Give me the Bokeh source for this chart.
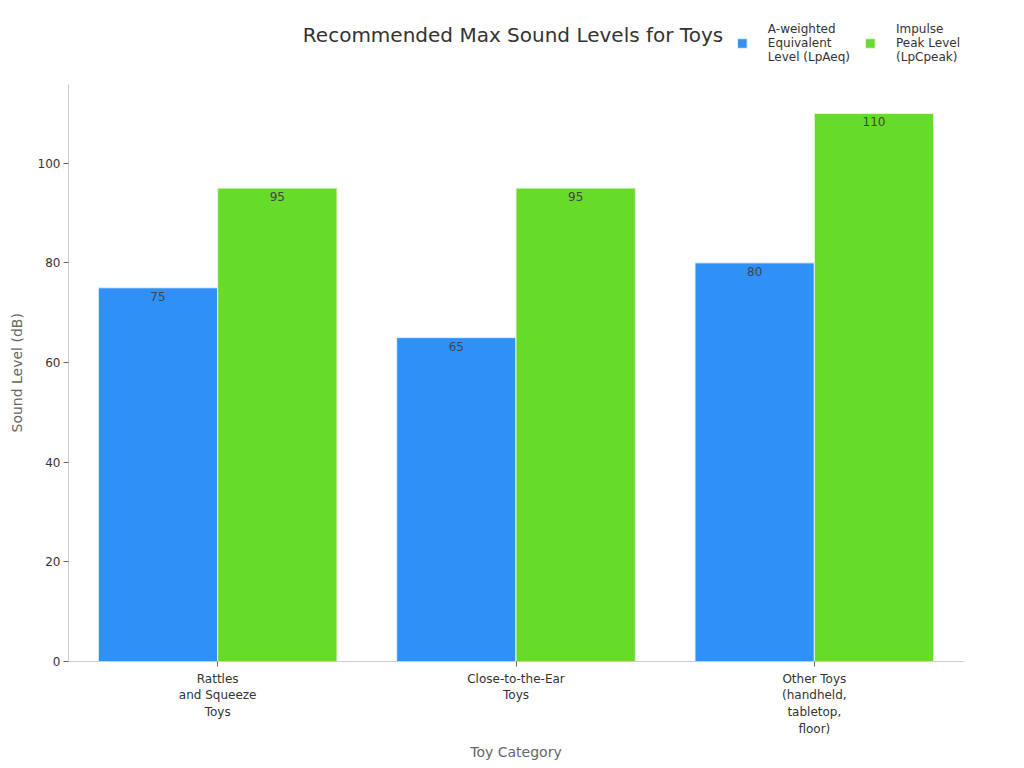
from bokeh.plotting import figure
from bokeh.models import ColumnDataSource, FactorRange, Legend, LegendItem, LabelSet, Label, Range1d, FixedTicker, Title
from bokeh.transform import dodge
from bokeh.core.properties import value
from bokeh.embed import file_html
from bokeh.resources import INLINE

title = "Recommended Max Sound Levels for Toys"
x_label = "Toy Category"
y_label = "Sound Level (dB)"
categories = ["Rattles\nand Squeeze\nToys", "Close-to-the-Ear\nToys", "Other Toys\n(handheld,\ntabletop,\nfloor)"]
lpaeq = [75, 65, 80]
lpcpeak = [95, 95, 110]
series_names = ["A-weighted\nEquivalent\nLevel (LpAeq)", "Impulse\nPeak Level\n(LpCpeak)"]
y_ticks = [0, 20, 40, 60, 80, 100]
y_axis_max = 115.8
colors = ["#2F91F8", "#66DB29"]

src = ColumnDataSource(dict(cat=categories, a=lpaeq, b=lpcpeak,
                            a_txt=[str(v) for v in lpaeq], b_txt=[str(v) for v in lpcpeak]))

FONT = "DejaVu Sans"
p = figure(width=1016, height=762, x_range=FactorRange(*categories, range_padding=0),
           y_range=Range1d(0, 128.84), output_backend="svg", toolbar_location=None,
           title=None,
           min_border_left=68, min_border_right=53, min_border_top=19, min_border_bottom=101)

r1 = p.vbar(x=dodge("cat", -0.2, range=p.x_range), top="a", width=0.4, source=src,
            fill_color=colors[0], line_color="#e6f0fa", line_width=1)
r2 = p.vbar(x=dodge("cat", 0.2, range=p.x_range), top="b", width=0.4, source=src,
            fill_color=colors[1], line_color="#e6f6dc", line_width=1)

for col, txt, off in [("a", "a_txt", -0.2), ("b", "b_txt", 0.2)]:
    p.add_layout(LabelSet(x=dodge("cat", off, range=p.x_range), y=col, text=txt, source=src,
                          text_align="center", text_baseline="top", y_offset=-4,
                          text_font=value(FONT), text_font_size="12px", text_color="#444444"))

p.add_layout(Label(x=444.5, y=627, x_units="screen", y_units="screen", text=title,
                   text_align="center", text_baseline="middle", text_font=FONT,
                   text_font_size="20px", text_color="#333333"))

p.xgrid.visible = False
p.ygrid.visible = False
p.outline_line_color = None

for ax in (p.xaxis[0], p.yaxis[0]):
    ax.axis_line_color = "#cccccc"
    ax.major_tick_line_color = "#666666"
    ax.major_tick_out = 5
    ax.major_tick_in = 0
    ax.minor_tick_line_color = None
    ax.major_label_text_font = FONT
    ax.major_label_text_font_size = "12px"
    ax.major_label_text_color = "#333333"
    ax.axis_label_text_font = FONT
    ax.axis_label_text_font_size = "14px"
    ax.axis_label_text_font_style = "normal"
    ax.axis_label_text_color = "#666666"

p.yaxis.ticker = FixedTicker(ticks=y_ticks)
p.yaxis.bounds = (0, y_axis_max)
p.yaxis.major_label_standoff = 3
p.xaxis.axis_label = x_label

p.add_layout(Title(text=y_label, align="left", vertical_align="top", offset=229, standoff=16,
                   text_font=FONT, text_font_size="14px", text_font_style="normal",
                   text_color="#666666"), "left")

legend = Legend(items=[LegendItem(label=series_names[0], renderers=[r1]),
                       LegendItem(label=series_names[1], renderers=[r2])],
                orientation="horizontal", location="top_right", margin=3, padding=4,
                label_text_font=FONT, label_text_font_size="12px", label_text_color="#333333",
                glyph_width=12, glyph_height=12, spacing=14, label_standoff=20,
                border_line_color=None, background_fill_alpha=0)
p.add_layout(legend, "center")

open("out.html", "w").write(file_html(p, INLINE))
